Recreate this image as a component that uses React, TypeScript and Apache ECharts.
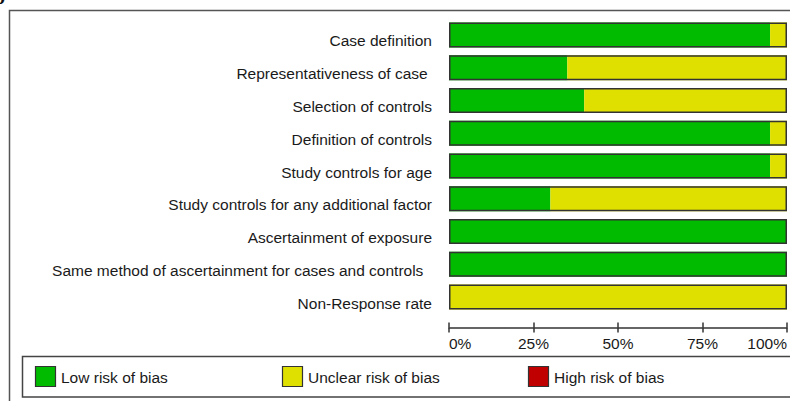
import React, { useEffect, useRef } from "react";
import * as echarts from "echarts";

const categories = [
  "Case definition",
  "Representativeness of case ",
  "Selection of controls",
  "Definition of controls",
  "Study controls for age",
  "Study controls for any additional factor",
  "Ascertainment of exposure",
  "Same method of ascertainment for cases and controls  ",
  "Non-Response rate",
];
const lowRisk = [95, 35, 40, 95, 95, 30, 100, 100, 0];
const unclearRisk = [5, 65, 60, 5, 5, 70, 0, 0, 100];
const highRisk = [0, 0, 0, 0, 0, 0, 0, 0, 0];
const seriesNames = ["Low risk of bias", "Unclear risk of bias", "High risk of bias"];
const seriesColors = ["#00bb00", "#dfdf00", "#c00000"];
const xTicks = [0, 25, 50, 75, 100];

const FONT = "'Liberation Sans', Arial, sans-serif";
const FS = 15.5;

export default function App() {
  const ref = useRef<HTMLDivElement>(null);
  useEffect(() => {
    if (!ref.current) return;
    const chart = echarts.init(ref.current, undefined, { renderer: "svg" });
    const totals = categories.map((_, i) => lowRisk[i] + unclearRisk[i] + highRisk[i]);
    const dataSets = [lowRisk, unclearRisk, highRisk];
    const legendX = [35, 282, 528];
    const legendGraphics: any[] = [];
    seriesNames.forEach((n, i) => {
      legendGraphics.push({
        type: "rect",
        shape: { x: legendX[i] + 0.5, y: 366.5, width: 20, height: 20 },
        style: { fill: seriesColors[i], stroke: "#333", lineWidth: 1.2 },
      });
      legendGraphics.push({
        type: "text",
        x: legendX[i] + 26,
        y: 377,
        style: { text: n, font: `${FS}px ${FONT}`, fill: "#1a1a1a", verticalAlign: "middle", textAlign: "left" },
      });
    });
    chart.setOption({
      animation: false,
      grid: { left: 449, right: 1, top: 18.6, bottom: 87.6, containLabel: false },
      xAxis: [
        {
          type: "value",
          min: 0,
          max: 100,
          interval: 25,
          position: "bottom",
          offset: 14,
          splitLine: { show: false },
          axisLine: { show: true, lineStyle: { color: "#333", width: 1.5 } },
          axisTick: { show: true, length: 5, lineStyle: { color: "#333", width: 1.5 } },
          axisLabel: {
            formatter: (v: number) => (xTicks.includes(v) ? `${v}%` : ""),
            fontSize: FS,
            fontFamily: FONT,
            color: "#1a1a1a",
            margin: 8,
            alignMinLabel: "left",
            alignMaxLabel: "right",
          },
        },
        {
          type: "value",
          min: 0,
          max: 100,
          interval: 25,
          position: "bottom",
          offset: 14,
          splitLine: { show: false },
          axisLine: { show: false },
          axisTick: { show: true, inside: true, length: 5, lineStyle: { color: "#333", width: 1.5 } },
          axisLabel: { show: false },
        },
      ],
      yAxis: {
        type: "category",
        data: categories,
        inverse: true,
        axisLine: { show: false },
        axisTick: { show: false },
        axisLabel: {
          fontSize: FS,
          fontFamily: FONT,
          color: "#1a1a1a",
          margin: 17,
          verticalAlign: "top",
          lineHeight: 12,
        },
      },
      series: [
        ...seriesNames.map((n, i) => ({
          name: n,
          type: "bar",
          stack: "risk",
          barWidth: 25,
          data: dataSets[i],
          itemStyle: { color: seriesColors[i] },
        })),
        {
          name: "frame",
          type: "bar",
          barWidth: 25,
          barGap: "-100%",
          data: totals,
          z: 5,
          itemStyle: { color: "rgba(0,0,0,0)", borderColor: "#333", borderWidth: 1.5 },
          silent: true,
        },
      ],
      graphic: [
        {
          type: "rect",
          shape: { x: 9.5, y: 10.5, width: 820, height: 420 },
          style: { fill: "none", stroke: "#555", lineWidth: 1.5 },
          z: 0,
        },
        {
          type: "text",
          x: -6,
          y: -13,
          style: { text: "b", font: `bold 20px 'Liberation Serif', serif`, fill: "#111" },
        },
        {
          type: "rect",
          shape: { x: 22.5, y: 356.5, width: 820, height: 40.5 },
          style: { fill: "#fff", stroke: "#444", lineWidth: 1.5 },
        },
        ...legendGraphics,
      ],
    });
    return () => chart.dispose();
  }, []);
  return (
    <div
      ref={ref}
      style={{ position: "absolute", left: 0, top: 0, width: 790, height: 401, background: "#fff" }}
    />
  );
}
